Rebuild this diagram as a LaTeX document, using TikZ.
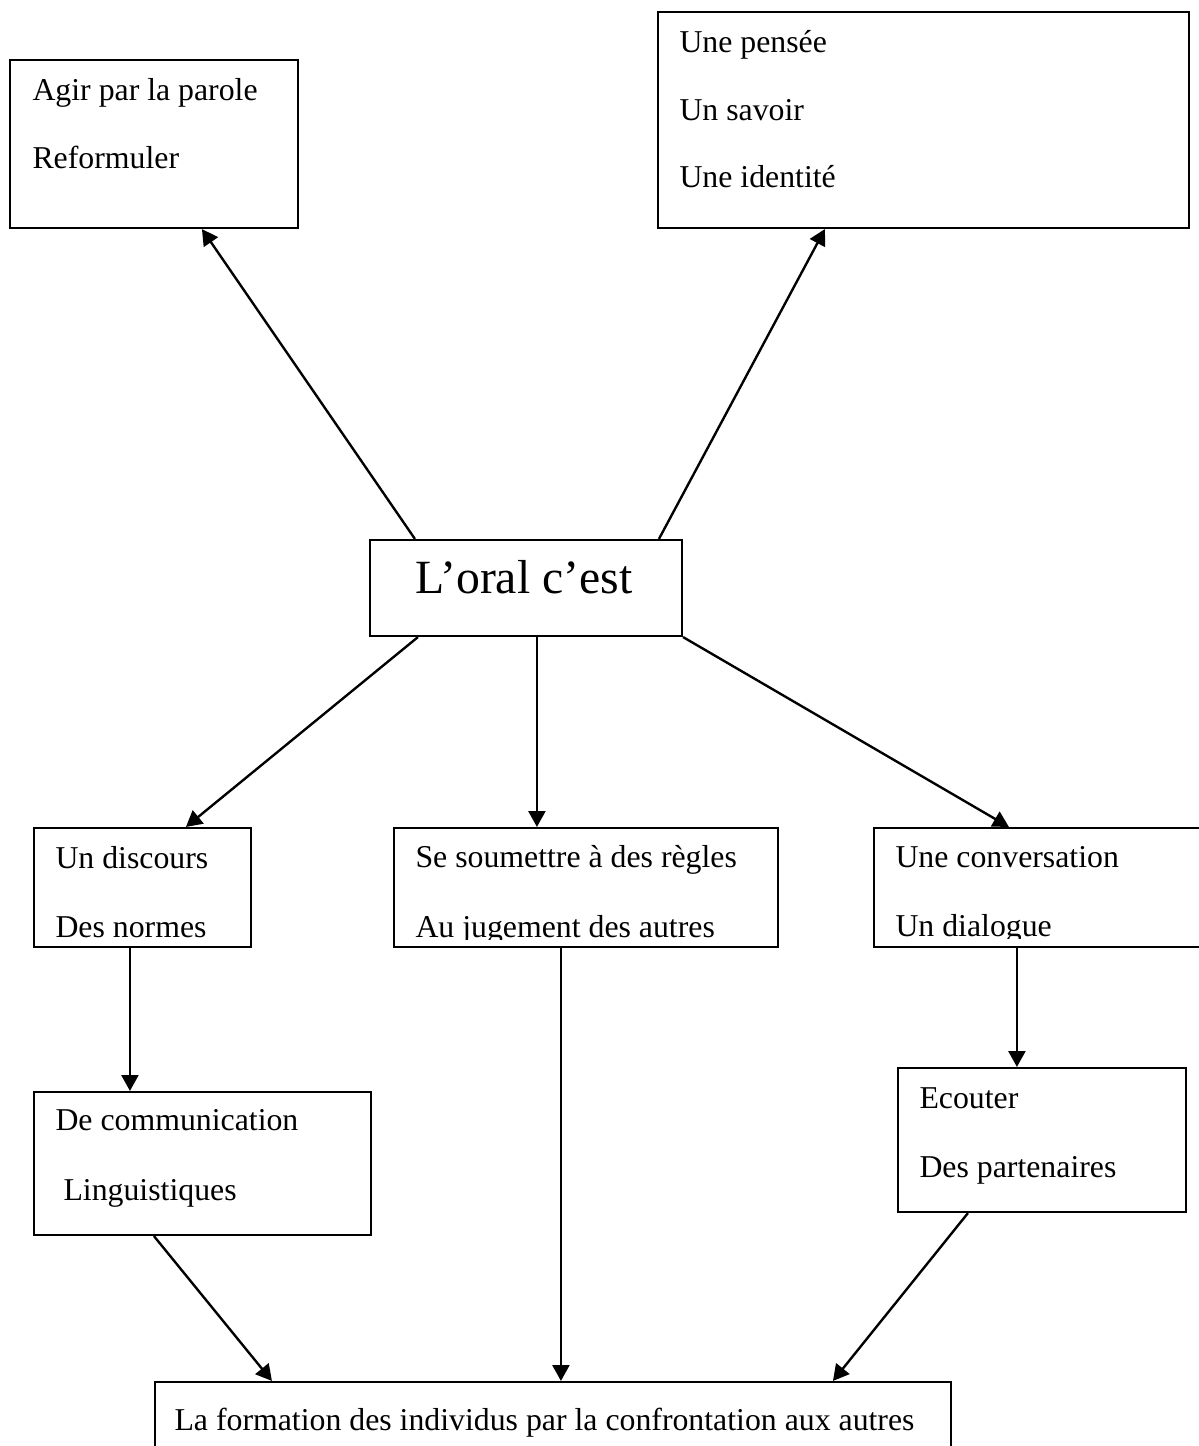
\documentclass[tikz,border=0pt]{standalone}
\usepackage{fontspec}
\setmainfont{Liberation Serif}
\usetikzlibrary{arrows.meta,calc,fit}
\begin{document}
\begin{tikzpicture}[x=0.3774pt,y=-0.3774pt,
  box/.style={draw, line width=0.8pt, inner sep=0pt},
  txt/.style={inner sep=0pt, anchor=base west, font=\fontsize{12}{14}\selectfont},
  big/.style={inner sep=0pt, anchor=base west, font=\fontsize{18}{22}\selectfont},
  conn/.style={line width=0.9pt, -{Triangle[length=6pt,width=6.4pt]}}]
\clip (0,0) rectangle (1199,1446);
\fill[white] (0,0) rectangle (1199,1446);

% boxes
\node[box, fit={(10,60) (298,228)}] (b1) {};
\node[box, fit={(658,12) (1189,228)}] (b2) {};
\node[box, fit={(370,540) (682,636)}] (c) {};
\node[box, fit={(34,828) (251,947)}] (b4) {};
\node[box, fit={(394,828) (778,947)}] (b5) {};
\node[box, fit={(874,828) (1215,947)}] (b6) {};
\node[box, fit={(34,1092) (371,1235)}] (b7) {};
\node[box, fit={(898,1068) (1186,1212)}] (b8) {};
\node[box, fit={(155,1382) (951,1475)}] (b9) {};

% texts
\node[txt] (t1a) at (32,100) {Agir par la parole};
\node[txt] (t1b) at (32,168) {Reformuler};
\node[txt] (t2a) at (679,52) {Une pensée};
\node[txt] (t2b) at (679,120) {Un savoir};
\node[txt] (t2c) at (679,187) {Une identité};
\node[big] (tc) at (415,593) {L’oral c’est};
\node[txt] (t4a) at (55,868) {Un discours};
\node[txt] (t4b) at (55,937) {Des normes};
\node[txt] (t5a) at (415,867) {Se soumettre à des règles};
\begin{scope}
\clip (394,828) rectangle (778,939);
\node[txt] (t5b) at (415,937) {Au jugement des autres};
\end{scope}
\node[txt] (t6a) at (895,867) {Une conversation};
\begin{scope}
\clip (874,828) rectangle (1215,938);
\node[txt] (t6b) at (895,936) {Un dialogue};
\end{scope}
\node[txt] (t7a) at (55,1130) {De communication};
\node[txt] (t7b) at (63,1200) {Linguistiques};
\node[txt] (t8a) at (919,1108) {Ecouter};
\node[txt] (t8b) at (919,1177) {Des partenaires};
\node[txt] (t9) at (174,1430) {La formation des individus par la confrontation aux autres};

% connectors
\draw[conn] ($(c.north west)+(46,0)$) -- ($(b1.south west)+(193,0)$);
\draw[conn] ($(c.north west)+(290,0)$) -- ($(b2.south west)+(168,0)$);
\draw[conn] ($(c.south west)+(49,0)$) -- ($(b4.north west)+(153,0)$);
\draw[conn] ($(c.south west)+(168,0)$) -- ($(b5.north west)+(144,0)$);
\draw[conn] (c.south east) -- ($(b6.north west)+(136,0)$);
\draw[conn] ($(b4.south west)+(97,0)$) -- ($(b7.north west)+(97,0)$);
\draw[conn] ($(b6.south west)+(144,0)$) -- ($(b8.north west)+(120,0)$);
\draw[conn] ($(b7.south west)+(121,0)$) -- ($(b9.north west)+(118,0)$);
\draw[conn] ($(b5.south west)+(168,0)$) -- ($(b9.north west)+(407,0)$);
\draw[conn] ($(b8.south west)+(71,0)$) -- ($(b9.north west)+(679,0)$);
\end{tikzpicture}
\end{document}
